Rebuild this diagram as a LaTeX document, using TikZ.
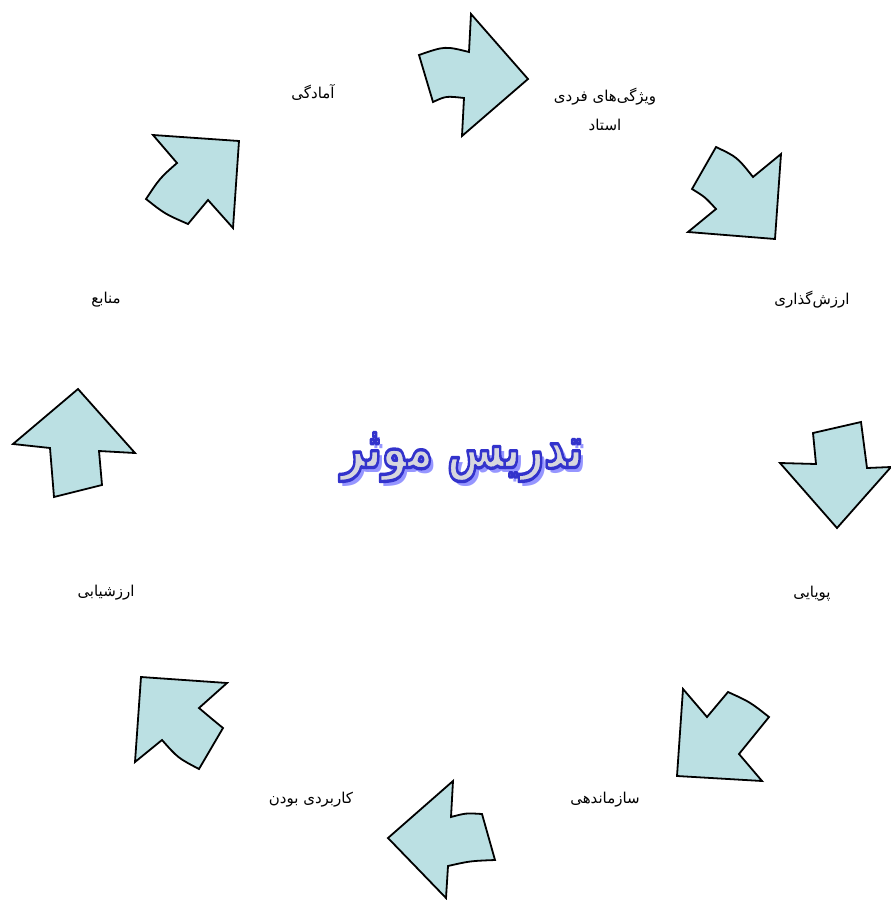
\documentclass[tikz,border=0pt]{standalone}
\usepackage{fontspec}
\usepackage{tikz}
\usetikzlibrary{calc}
\newfontfamily\arabicfont[Script=Arabic]{DejaVu Sans}
\TeXXeTstate=1
\definecolor{arrowfill}{RGB}{187,224,227}
\definecolor{titleblue}{RGB}{51,51,204}
\definecolor{titleshadow}{RGB}{150,150,255}
\definecolor{titlefill}{RGB}{215,215,222}
\newcommand{\titletext}{\beginR تدریس موثر\endR}
\newcommand{\outlined}[1]{\special{pdf:literal direct 0.2 0.2 0.8 RG 2.4 w 1 j 2 Tr}#1\special{pdf:literal direct 0 Tr}}

\begin{document}
\begin{tikzpicture}[
        x=1pt, y=-1pt,
        arw/.style={draw=black, line width=1.8pt, fill=arrowfill, line join=miter},
        lbl/.style={font=\arabicfont\fontsize{15}{29}\selectfont, align=center, inner sep=0pt},
        ttl/.style={font=\arabicfont\bfseries\fontsize{41}{45}\selectfont, inner sep=0pt,
                    transform shape, yscale=1.4}
    ]
        \useasboundingbox (0,0) rectangle (891,900);
        % arrows round the circle, clockwise from the top
        \draw[arw] (419,55) .. controls (445,46) .. (469,52) -- (471,14) -- (528,79)
            -- (462,136) -- (464,98) .. controls (446,96) .. (433,102) -- cycle;
        \draw[arw] (716,147) .. controls (737,157) .. (753,177) -- (781,154) -- (775,239)
            -- (688,232) -- (716,209) .. controls (705,197) .. (692,189) -- cycle;
        \draw[arw] (813,433) -- (861,422) .. controls (864,445) .. (867,468) -- (891,467)
            -- (837,528) -- (780,463) -- (816,464) -- cycle;
        \draw[arw] (683,689) -- (707,717) -- (728,692) .. controls (750,702) .. (769,717)
            -- (739,754) -- (762,781) -- (677,776) -- cycle;
        \draw[arw] (388,838) -- (453,781) -- (451,817) .. controls (466,813) .. (482,814)
            -- (495,860) .. controls (470,861) .. (448,866) -- (446,898) -- cycle;
        \draw[arw] (141,677) -- (227,683) -- (199,708) .. controls (212,719) .. (223,728)
            -- (199,769) .. controls (178,758) .. (162,740) -- (135,762) -- cycle;
        \draw[arw] (78,389) -- (135,453) -- (99,451) -- (102,485) -- (54,497)
            -- (50,448) -- (13,444) -- cycle;
        \draw[arw] (153,135) -- (239,141) -- (233,228) -- (208,200) -- (188,224)
            .. controls (165,214) .. (146,199) .. controls (160,178) .. (177,163) -- cycle;
        % labels
        \node[lbl] (amadegi) at (313,92) {\beginR آمادگی\endR};
        \node[lbl] (vizhegi) at (605,109) {\beginR ویژگی‌های فردی\endR\\\beginR استاد\endR};
        \node[lbl] (arzesh) at (812,300) {\beginR ارزش‌گذاری\endR};
        \node[lbl] (manabe) at (106,300) {\beginR منابع\endR};
        \node[lbl] (pouyai) at (812,594) {\beginR پویایی\endR};
        \node[lbl] (arzeshyabi) at (106,593) {\beginR ارزشیابی\endR};
        \node[lbl] (sazman) at (605,800) {\beginR سازماندهی\endR};
        \node[lbl] (karbordi) at (311,800) {\beginR کاربردی بودن\endR};
        % title with shadow and outline
        \node[ttl, text=titleshadow] (shadow) at (466,462) {\titletext};
        \node[ttl, text=titlefill] (title) at (462,457) {\outlined{\titletext}};
    \end{tikzpicture}
\end{document}
